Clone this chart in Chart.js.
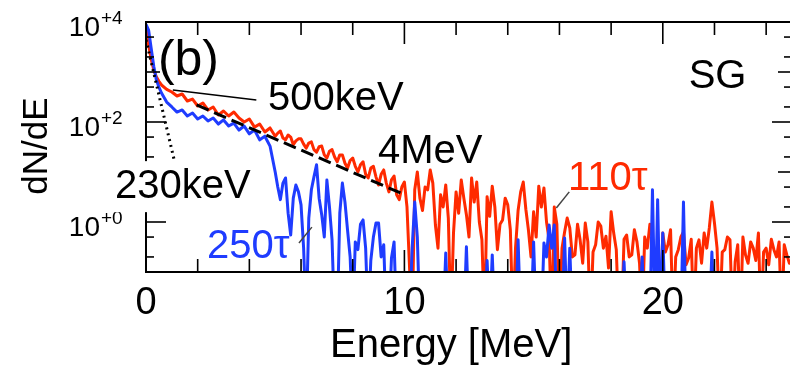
<!DOCTYPE html>
<html>
<head>
<meta charset="utf-8">
<script src="https://cdn.jsdelivr.net/npm/chart.js@4.4.0/dist/chart.umd.min.js"></script>
<style>
  html, body { margin: 0; padding: 0; background: #fff; overflow: hidden; }
  canvas { display: block; }
</style>
</head>
<body>
<canvas id="spectrum" width="796" height="368"></canvas>
<script>
var FONT = '"Liberation Sans", Arial, Helvetica, sans-serif';
var RED = '#ff2a00';
var BLUE = '#1f3cff';

// energy grid [MeV]: a few points near zero, 0.2 MeV bins to 4.8, 0.1 MeV bins from 5 to 25
var lowEnergy = [0, 0.1, 0.2, 0.3, 0.4, 0.5, 0.6, 0.8];
var midStart = 1.0, midStep = 0.2;
var tailStart = 5.0, tailStep = 0.1;

// dN/dE at 110 tau (red); 0.01 = empty bin (below the axis)
var red110Low = [8000, 3500, 1800, 1100, 800, 650, 550, 450];
var red110Mid = [
  398, 331, 363, 263, 288, 209, 240, 174, 200, 138,
  166, 132, 158, 120, 100, 115, 79, 91, 63, 76
];
var red110Tail = [
  52, 60, 66, 48, 44, 55, 50, 35, 42, 46,
  46, 36, 30, 38, 40, 28, 25, 32, 33, 22,
  19, 26, 28, 20, 16, 22, 22, 15, 12, 17,
  19, 13, 10, 14, 16, 9, 7.6, 12, 13, 8,
  5.5, 9, 11, 6, 4.0, 7, 8.3, 3.5, 2.8, 5,
  6.3, 2.0, 0.12, 0.01, 4.4, 10, 3.0, 1.7, 5.0, 4.4,
  11, 6.0, 0.87, 0.3, 3.5, 2.0, 5.5, 1.2, 0.01, 0.6,
  4.0, 1.5, 6.9, 3.0, 1.4, 0.5, 7.6, 2.5, 6.3, 1.0,
  0.44, 0.01, 3.2, 1.3, 5.2, 2.0, 0.28, 0.9, 1.1, 3.0,
  2.2, 0.7, 0.01, 0.3, 1.7, 4.0, 6.3, 1.8, 0.69, 0.2,
  1.6, 0.5, 5.2, 2.0, 4.8, 1.0, 0.44, 0.01, 2.0, 0.9,
  0.01, 0.3, 0.63, 1.2, 0.76, 0.2, 0.22, 0.9, 0.44, 0.15,
  0.95, 0.4, 0.01, 0.25, 0.35, 1.0, 0.83, 0.3, 0.52, 0.12,
  1.6, 0.6, 0.28, 0.01, 0.01, 0.45, 0.55, 0.2, 0.22, 0.7,
  0.4, 0.15, 0.01, 0.5, 0.3, 0.9, 0.48, 0.2, 0.17, 0.01,
  0.6, 0.25, 0.35, 0.7, 0.01, 0.2, 0.28, 0.5, 0.63, 0.14,
  0.19, 0.45, 0.01, 0.3, 0.44, 0.15, 0.6, 0.3, 0.76, 2.5,
  0.95, 0.3, 0.01, 0.25, 0.28, 0.5, 0.44, 0.01, 0.16, 0.35,
  0.01, 0.5, 0.22, 0.15, 0.4, 0.3, 0.17, 0.6, 0.01, 0.25,
  0.3, 0.14, 0.45, 0.28, 0.2, 0.4, 0.01, 0.35, 0.22, 0.15,
  0.17
];

// dN/dE at 250 tau (blue)
var blue250Low = [9000, 6900, 3000, 1300, 700, 500, 380, 250];
var blue250Mid = [
  200, 158, 174, 132, 151, 115, 132, 105, 120, 91,
  110, 83, 95, 69, 83, 58, 69, 44, 52, 33
];
var blue250Tail = [
  10, 5, 2.8, 6, 7.6, 1.5, 0.55, 3, 5.5, 4,
  2.2, 0.3, 0.01, 1.2, 4.4, 8, 14, 3, 1.4, 0.5,
  6.9, 2, 0.44, 0.01, 0.01, 1.5, 6.0, 2.5, 0.69, 0.2,
  0.01, 0.4, 0.28, 0.9, 1.1, 0.3, 0.01, 0.17, 0.5, 0.95,
  0.95, 0.2, 0.35, 0.01, 0.01, 0.19, 0.4, 0.01, 0.01, 0.01,
  0.01, 0.01, 0.01, 0.3, 2.5, 0.5, 0.01, 0.01, 0.01, 0.01,
  0.01, 0.01, 0.01, 0.01, 0.01, 0.01, 0.24, 0.01, 0.01, 0.01,
  0.01, 0.01, 0.01, 0.01, 0.32, 0.01, 0.01, 0.01, 0.01, 0.01,
  0.01, 0.01, 0.17, 0.01, 0.22, 0.01, 0.01, 0.01, 0.01, 0.01,
  0.01, 0.01, 0.01, 0.01, 0.44, 0.01, 0.01, 0.01, 0.01, 0.01,
  0.4, 0.01, 0.01, 0.01, 0.38, 0.2, 0.87, 0.3, 0.87, 0.01,
  0.01, 0.01, 0.48, 0.01, 0.3, 0.01, 0.01, 0.01, 0.01, 0.01,
  0.01, 0.01, 0.01, 0.01, 0.01, 0.01, 0.01, 0.01, 0.01, 0.01,
  0.01, 0.01, 0.01, 0.01, 0.01, 0.16, 0.01, 0.01, 0.01, 0.01,
  0.01, 0.01, 0.2, 0.01, 0.01, 0.01, 4.4, 0.01, 2.8, 0.01,
  0.6, 0.01, 0.01, 0.01, 0.01, 0.01, 0.01, 0.01, 2.5, 0.01,
  0.01, 0.01, 0.01, 0.01, 0.01, 0.01, 0.01, 0.01, 0.01, 0.25,
  0.01, 0.01, 0.01, 0.01, 0.01, 0.01, 0.01, 0.01, 0.01, 0.01,
  0.01, 0.01, 0.01, 0.01, 0.01, 0.01, 0.01, 0.01, 0.01, 0.01,
  0.01, 0.01, 0.01, 0.01, 0.01, 0.01, 0.01, 0.01, 0.01, 0.01,
  0.01
];

// exponential fits (straight on the log axis): end points [MeV, dN/dE]
var fit230keV = [[0, 4400], [1.12, 15]];
var fit4MeV = [[1.96, 219], [9.85, 3.8]];

// leader lines from labels to curves
var lead500keV = [[1.04, 437], [4.27, 275]];
var lead110 = [[15.88, 1.9], [16.38, 4.0]];
var lead250 = [[5.92, 0.38], [6.42, 0.79]];

// axes
var xLabelTicks = [0, 10, 20];
var xMinorTicks = [0, 2, 4, 6, 8, 10, 12, 14, 16, 18, 20, 22, 24];
var yTickValues = [0.1, 0.2, 0.5, 1, 2, 5, 10, 20, 50, 100, 200, 500, 1000, 2000, 5000, 10000];
var yLabelValues = [10000, 100, 1];
var yLabelExp = ['+4', '+2', '+0'];

// text notes placed in data coordinates [MeV, dN/dE]
var notes = [
  { text: '(b)', e: 0.46, v: 871, size: 50, color: '#000' },
  { text: '500keV', e: 4.72, v: 174, size: 40, color: '#000' },
  { text: 'SG', e: 21.0, v: 479, size: 40, color: '#000' },
  { text: '4MeV', e: 8.98, v: 15.1, size: 40, color: '#000' },
  { text: '230keV', e: -1.2, v: 3.0, size: 40, color: '#000', box: true },
  { text: '110\u03c4', e: 16.33, v: 4.37, size: 40, color: RED },
  { text: '250\u03c4', e: 2.36, v: 0.19, size: 40, color: BLUE }
];

function spectrum(low, mid, tail) {
  var pts = lowEnergy.map(function (e, i) { return { x: e, y: low[i] }; });
  mid.forEach(function (v, i) {
    pts.push({ x: +(midStart + i * midStep).toFixed(2), y: v });
  });
  tail.forEach(function (v, i) {
    pts.push({ x: +(tailStart + i * tailStep).toFixed(2), y: v });
  });
  return pts;
}

function pairs(list) {
  return list.map(function (p) { return { x: p[0], y: p[1] }; });
}

function isDecade(v) {
  var m = Math.log10(v);
  return Math.abs(m - Math.round(m)) < 1e-9;
}

var decorations = {
  id: 'decorations',
  afterDraw: function (chart) {
    var ctx = chart.ctx;
    var area = chart.chartArea;
    var xs = chart.scales.x;
    var ys = chart.scales.y;

    function seg(x1, y1, x2, y2) {
      ctx.beginPath();
      ctx.moveTo(x1, y1);
      ctx.lineTo(x2, y2);
      ctx.stroke();
    }

    ctx.save();
    ctx.strokeStyle = '#000';
    ctx.lineWidth = 2;
    ctx.strokeRect(area.left, area.top, area.right - area.left, area.bottom - area.top);

    ctx.lineWidth = 1.6;
    xMinorTicks.forEach(function (e) {
      var px = xs.getPixelForValue(e);
      var len = xLabelTicks.indexOf(e) >= 0 ? 22 : 13;
      seg(px, area.bottom, px, area.bottom - len);
      seg(px, area.top, px, area.top + len);
    });
    ys.ticks.forEach(function (t) {
      var py = ys.getPixelForValue(t.value);
      var len = 8;
      if (isDecade(t.value)) {
        len = Math.round(Math.log10(t.value)) % 2 === 0 ? 20 : 14;
      }
      seg(area.left, py, area.left + len, py);
      seg(area.right, py, area.right - len, py);
    });

    // y labels 10^n with superscript
    ctx.fillStyle = '#000';
    ctx.textBaseline = 'alphabetic';
    yLabelValues.forEach(function (v, i) {
      var py = ys.getPixelForValue(v);
      ctx.font = '28px ' + FONT;
      ctx.textAlign = 'right';
      ctx.fillText('10', 100, py + 14);
      ctx.font = '19px ' + FONT;
      ctx.textAlign = 'left';
      ctx.fillText(yLabelExp[i], 101, py + 2);
    });

    // axis titles
    ctx.font = '40px ' + FONT;
    ctx.textAlign = 'left';
    ctx.fillText('Energy [MeV]', 330, 357);
    ctx.save();
    ctx.translate(47, 146);
    ctx.rotate(-Math.PI / 2);
    ctx.font = '35px ' + FONT;
    ctx.textAlign = 'center';
    ctx.fillText('dN/dE', 0, 0);
    ctx.restore();

    // notes
    notes.forEach(function (n) {
      var px = xs.getPixelForValue(n.e);
      var py = ys.getPixelForValue(n.v);
      ctx.font = n.size + 'px ' + FONT;
      ctx.textAlign = 'left';
      if (n.box) {
        var w = ctx.measureText(n.text).width;
        ctx.fillStyle = '#fff';
        ctx.fillRect(px - 5, py - 37, w + 10, 51);
      }
      ctx.fillStyle = n.color;
      ctx.fillText(n.text, px, py);
    });
    ctx.restore();
  }
};

Chart.defaults.font.family = FONT;

new Chart(document.getElementById('spectrum'), {
  type: 'line',
  data: {
    datasets: [
      { data: spectrum(red110Low, red110Mid, red110Tail), borderColor: RED, borderWidth: 3, order: 3 },
      { data: spectrum(blue250Low, blue250Mid, blue250Tail), borderColor: BLUE, borderWidth: 3, order: 2 },
      { data: pairs(fit230keV), borderColor: '#000', borderWidth: 3, borderDash: [2, 4], order: 1 },
      { data: pairs(fit4MeV), borderColor: '#000', borderWidth: 3, borderDash: [13, 6], order: 1 },
      { data: pairs(lead500keV), borderColor: '#000', borderWidth: 1.5, order: 1 },
      { data: pairs(lead110), borderColor: '#444', borderWidth: 1.5, order: 1 },
      { data: pairs(lead250), borderColor: '#444', borderWidth: 1.5, order: 1 }
    ]
  },
  options: {
    responsive: false,
    animation: false,
    events: [],
    layout: { padding: { top: 22, right: 4, left: 0, bottom: 0 } },
    elements: {
      point: { radius: 0 },
      line: { tension: 0, borderJoinStyle: 'round', fill: false }
    },
    plugins: { legend: { display: false }, tooltip: { enabled: false } },
    scales: {
      x: {
        type: 'linear',
        min: 0,
        max: 25,
        grid: { display: false, drawTicks: false },
        border: { display: false },
        ticks: { color: '#000', font: { size: 38 }, padding: 9, maxRotation: 0 },
        afterBuildTicks: function (s) { s.ticks = xLabelTicks.map(function (v) { return { value: v }; }); },
        afterFit: function (s) { s.height = 96; }
      },
      y: {
        type: 'logarithmic',
        min: 0.1,
        max: 10000,
        grid: { display: false, drawTicks: false },
        border: { display: false },
        ticks: { display: false },
        afterBuildTicks: function (s) { s.ticks = yTickValues.map(function (v) { return { value: v }; }); },
        afterFit: function (s) { s.width = 146; }
      }
    }
  },
  plugins: [decorations]
});
</script>
</body>
</html>
